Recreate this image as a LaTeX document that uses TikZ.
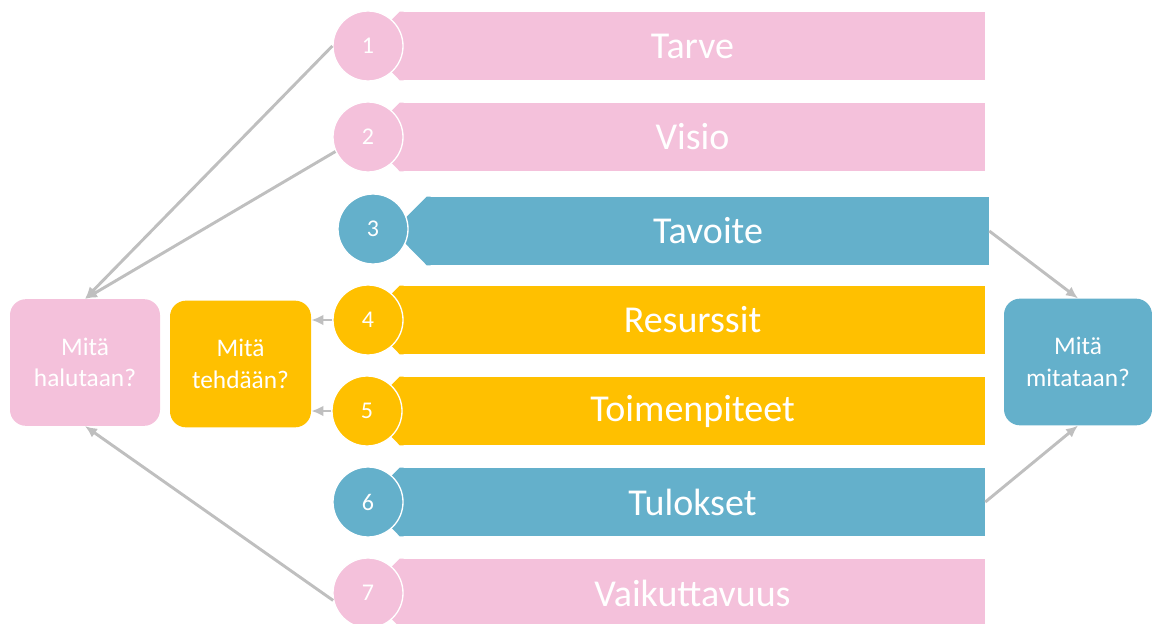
\documentclass[tikz,border=0pt]{standalone}
\usepackage{fontspec}
\setmainfont{Carlito}
\usetikzlibrary{arrows.meta}
\definecolor{wishPink}{HTML}{F4C1DB}
\definecolor{meterBlue}{HTML}{64B0CB}
\definecolor{doYellow}{HTML}{FFC000}
\definecolor{linkGrey}{HTML}{BFBFBF}

\begin{document}
\begin{tikzpicture}[x=0.75pt,y=-0.75pt,
  bar/.style={inner sep=0pt,minimum height=51pt,minimum width=438.75pt,text=white,font=\fontsize{28.5}{30}\selectfont},
  num/.style={circle,draw=white,line width=1pt,minimum size=52.5pt,inner sep=0pt,text=white,font=\fontsize{18}{20}\selectfont},
  ask/.style={rounded corners=12pt,inner sep=0pt,minimum height=95pt,text=white,align=center,font=\fontsize{19}{23.5}\selectfont},
  link/.style={-{Latex[length=9pt,width=8pt]},linkGrey,line width=2.2pt}]
  \useasboundingbox (0,0) rectangle (1152,624);

  % the seven bars, each with a pointed left end
  \node[bar,fill=wishPink] (b1) at (692.5,46) {Tarve};
  \node[bar,fill=wishPink] (b2) at (692.5,137) {Visio};
  \node[bar,fill=meterBlue,minimum width=421.5pt] (b3) at (708,231) {Tavoite};
  \node[bar,fill=doYellow] (b4) at (692.5,320) {Resurssit};
  \node[bar,fill=doYellow] (b5) at (692.5,411) {Toimenpiteet};
  \node[bar,fill=meterBlue] (b6) at (692.5,502) {Tulokset};
  \node[bar,fill=wishPink] (b7) at (692.5,593) {Vaikuttavuus};
  \fill[wishPink] ([xshift=3pt]b1.north west) -- (b1.north west) -- ++(-34,34) -- (b1.south west) -- ([xshift=3pt]b1.south west) -- cycle;
  \fill[wishPink] ([xshift=3pt]b2.north west) -- (b2.north west) -- ++(-34,34) -- (b2.south west) -- ([xshift=3pt]b2.south west) -- cycle;
  \fill[meterBlue] ([xshift=3pt]b3.north west) -- (b3.north west) -- ++(-34,34) -- (b3.south west) -- ([xshift=3pt]b3.south west) -- cycle;
  \fill[doYellow] ([xshift=3pt]b4.north west) -- (b4.north west) -- ++(-34,34) -- (b4.south west) -- ([xshift=3pt]b4.south west) -- cycle;
  \fill[doYellow] ([xshift=3pt]b5.north west) -- (b5.north west) -- ++(-34,34) -- (b5.south west) -- ([xshift=3pt]b5.south west) -- cycle;
  \fill[meterBlue] ([xshift=3pt]b6.north west) -- (b6.north west) -- ++(-34,34) -- (b6.south west) -- ([xshift=3pt]b6.south west) -- cycle;
  \fill[wishPink] ([xshift=3pt]b7.north west) -- (b7.north west) -- ++(-34,34) -- (b7.south west) -- ([xshift=3pt]b7.south west) -- cycle;

  % numbers
  \node[num,fill=wishPink] (c1) at (368,46) {1};
  \node[num,fill=wishPink] (c2) at (368,137) {2};
  \node[num,fill=meterBlue] (c3) at (373,229) {3};
  \node[num,fill=doYellow] (c4) at (368,320) {4};
  \node[num,fill=doYellow] (c5) at (367,411) {5};
  \node[num,fill=meterBlue] (c6) at (368,502) {6};
  \node[num,fill=wishPink] (c7) at (368,593) {7};

  % questions
  \node[ask,fill=wishPink,minimum width=112.5pt] (want) at (85,362.5) {Mitä\\halutaan?};
  \node[ask,fill=doYellow,minimum width=105.75pt] (do) at (240.5,364) {Mitä\\tehdään?};
  \node[ask,fill=meterBlue,minimum width=111pt] (measure) at (1078,362) {Mitä\\mitataan?};

  \draw[link] (c1.west) -- (want.north);
  \draw[link] (c2.204) -- (want.north);
  \draw[link] (c7.192) -- (want.south);
  \draw[link] (c4.west) -- (c4.west -| do.east);
  \draw[link] (c5.west) -- (c5.west -| do.east);
  \draw[link] (b3.east) -- (measure.north);
  \draw[link] (b6.east) -- (measure.south);
\end{tikzpicture}
\end{document}
